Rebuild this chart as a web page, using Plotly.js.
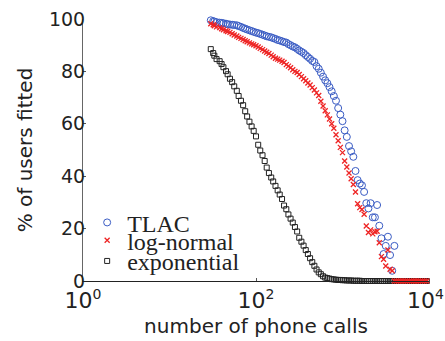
<!DOCTYPE html>
<html>
<head>
<meta charset="utf-8">
<script src="https://cdn.plot.ly/plotly-3.0.1.min.js"></script>
<style>
  html, body { margin: 0; padding: 0; background: #fff; }
  #chart { width: 445px; height: 341px; }
</style>
</head>
<body>
<div id="chart"></div>
<script>
// Call-count thresholds (log-spaced)
const calls = [30, 32, 33, 35, 38, 40, 42, 45, 47, 50, 53, 56, 60, 63, 67, 71, 75, 79, 84, 89,
  94, 100, 106, 112, 119, 126, 133, 141, 150, 158, 168, 178, 188, 200, 211, 224, 237, 251, 266, 282,
  299, 316, 335, 355, 376, 398, 422, 447, 473, 501, 531, 562, 596, 631, 668, 708, 750, 794, 841, 891,
  944, 1000, 1059, 1122, 1189, 1259, 1334, 1413, 1496, 1585, 1679, 1778, 1884, 1995, 2113, 2239, 2371, 2512, 2661, 2818,
  2985, 3162, 3350, 3548, 3758, 3981, 4217, 4467, 4732, 5012, 5309, 5623, 5957, 6310, 6683, 7079, 7499, 7943, 8414, 8913,
  9441];

// % of users fitted by each model
const tlac = [99.5, 99.2, 99.0, 98.8, 98.6, 98.5, 98.4, 98.2, 98.0, 97.9,
  97.8, 97.7, 97.6, 97.3, 97.0, 96.6, 96.3, 96.0, 95.7, 95.4,
  95.1, 94.8, 94.6, 94.3, 94.0, 93.7, 93.4, 93.2, 93.0, 92.7,
  92.4, 92.0, 91.8, 91.5, 91.2, 91.0, 90.4, 90.0, 89.5, 89.2,
  88.6, 88.0, 87.5, 87.0, 86.2, 85.5, 84.8, 84.0, 83.6, 82.0,
  81.0, 79.5, 78.0, 76.6, 75.5, 74.0, 72.4, 70.6, 68.8, 66.0,
  63.5, 61.0, 57.5, 55.0, 51.5, 49.5, 47.4, 42.0, 38.5, 37.2,
  36.5, 34.0, 29.7, 27.7, 29.7, 24.3, 24.3, 29.0, 21.1, 16.3,
  10.3, 13.4, 16.9, 9.9, 3.9, 13.4];

const logNormal = [98.2, 97.8, 97.4, 97.0, 96.7, 96.3, 95.9, 95.5, 95.2, 94.9,
  94.4, 93.9, 93.5, 93.0, 92.6, 92.2, 91.7, 91.3, 90.9, 90.5,
  90.2, 89.8, 89.3, 88.8, 88.3, 87.8, 87.3, 86.8, 86.2, 85.6,
  85.0, 84.7, 84.3, 83.9, 83.4, 82.6, 82.0, 81.4, 80.6, 80.0,
  79.6, 78.8, 78.0, 77.2, 76.4, 75.6, 74.8, 73.8, 72.9, 71.8,
  70.8, 68.6, 66.8, 65.0, 63.4, 61.8, 60.0, 58.3, 55.8, 53.5,
  51.0, 49.0, 45.8, 43.5, 41.2, 39.0, 36.8, 34.0, 29.5, 28.0,
  27.3, 25.5, 21.0, 18.5, 19.5, 18.0, 18.8, 19.0, 14.6, 9.3,
  8.3, 5.7, 11.8, 4.5, 3.9, 0, 0, 0, 0, 0,
  0, 0, 0, 0, 0, 0, 0, 0, 0, 0, 0];

const exponential = [88.5, 87.0, 86.0, 84.7, 83.9, 82.8, 81.6, 80.1, 78.9, 77.2,
  75.9, 74.3, 72.6, 70.6, 68.8, 67.1, 64.8, 62.8, 60.8, 59.0,
  57.3, 55.2, 52.0, 49.8, 48.0, 45.8, 43.3, 41.2, 39.5, 38.0,
  36.3, 34.6, 33.0, 31.3, 28.8, 27.4, 25.4, 23.8, 22.3, 20.6,
  18.9, 16.5, 15.0, 13.5, 11.8, 10.3, 8.7, 7.2, 5.8, 4.4,
  3.3, 2.6, 1.8, 1.3, 1.1, 0.9, 0.7, 0.6, 0.5, 0.4,
  0.4, 0.3, 0.3, 0.2, 0.2, 0.2, 0.1, 0.1, 0.1, 0.1,
  0, 0, 0, 0, 0, 0, 0, 0, 0, 0,
  0, 0, 0, 0, 0, 0, 0, 0, 0, 0,
  0, 0, 0, 0, 0, 0, 0, 0, 0, 0, 0];

// Decade ticks shown as powers of ten (small raised exponent)
const xTickVals = [1, 100, 10000];
const xTickText = [
  '10<sup><span style="font-size:14px">0</span></sup>',
  '10<sup><span style="font-size:14px">2</span></sup>',
  '10<sup><span style="font-size:14px">4</span></sup>\u00a0'
];
const yTickVals = [0, 20, 40, 60, 80, 100];

const BLUE = '#3a5cc4';
const RED = '#ee2424';
const DARK = '#222222';

const traces = [
  {
    name: 'TLAC', type: 'scatter', mode: 'markers', cliponaxis: false,
    x: calls.slice(0, tlac.length), y: tlac,
    marker: { symbol: 'circle-open', size: 7, color: BLUE, line: { width: 1 } },
    legend: 'legend'
  },
  {
    name: 'exponential', type: 'scatter', mode: 'markers', cliponaxis: false,
    x: calls, y: exponential,
    marker: { symbol: 'square-open', size: 5, color: DARK, line: { width: 1 } },
    legend: 'legend3'
  },
  {
    name: 'log-normal', type: 'scatter', mode: 'markers', cliponaxis: false,
    x: calls, y: logNormal,
    marker: { symbol: 'x-thin-open', size: 5, color: RED, line: { width: 1.3 } },
    legend: 'legend2'
  }
];

const legendStyle = (y) => ({
  x: 0.012, y: y, xanchor: 'left', yanchor: 'middle',
  bgcolor: 'rgba(0,0,0,0)', borderwidth: 0,
  font: { family: 'Liberation Serif', size: 24, color: DARK }
});

const layout = {
  width: 445, height: 341,
  margin: { l: 83, r: 16, t: 19, b: 60 },
  paper_bgcolor: '#fff', plot_bgcolor: '#fff',
  font: { family: 'DejaVu Sans', color: DARK },
  showlegend: true,
  legend: legendStyle(0.222),
  legend2: legendStyle(0.154),
  legend3: legendStyle(0.075),
  xaxis: {
    type: 'log', range: [0, 4],
    tickmode: 'array', tickvals: xTickVals, ticktext: xTickText,
    ticks: 'inside', ticklen: 3, tickcolor: '#555',
    ticklabeloverflow: 'allow',
    showline: true, linecolor: DARK, linewidth: 1,
    showgrid: false, zeroline: false,
    tickfont: { family: 'DejaVu Sans', size: 22, color: DARK },
    title: { text: 'number of phone calls', font: { family: 'DejaVu Sans', size: 20, color: DARK }, standoff: 6 }
  },
  yaxis: {
    range: [0, 100],
    tickmode: 'array', tickvals: yTickVals,
    ticks: 'inside', ticklen: 3, tickcolor: '#555',
    ticklabelstandoff: -7,
    showline: true, linecolor: '#666', linewidth: 1,
    showgrid: false, zeroline: false,
    tickfont: { family: 'DejaVu Sans', size: 19, color: DARK },
    title: { text: '% of users fitted', font: { family: 'DejaVu Sans', size: 20, color: DARK }, standoff: 10 }
  }
};

Plotly.newPlot('chart', traces, layout, { displayModeBar: false, staticPlot: true });
</script>
</body>
</html>
